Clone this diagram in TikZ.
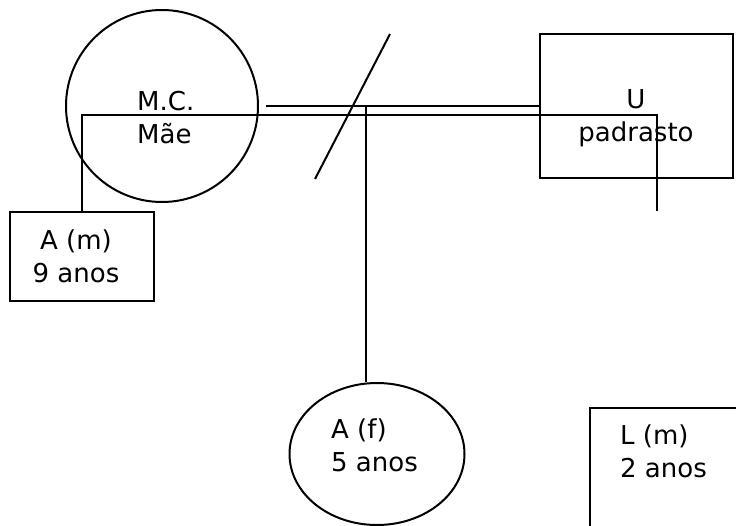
\documentclass[tikz,border=0pt]{standalone}
\usepackage{fontspec}
\setmainfont{DejaVu Sans}
\usetikzlibrary{shapes.geometric}
\tikzstyle{homem}=[rectangle, draw=black, line width=2pt, inner sep=0pt]
\tikzstyle{mulher}=[ellipse, draw=black, line width=2pt, inner sep=0pt]
\tikzstyle{txt}=[align=left, inner sep=0pt, font=\fontsize{26}{33}\selectfont]
\tikzstyle{lig}=[line width=2pt]

\begin{document}
\begin{tikzpicture}[x=1pt, y=-1pt]
                                        \useasboundingbox (0,0) rectangle (736,525);
                                        \clip (0,0) rectangle (736,525);
                                        
                                        \node[mulher, minimum width=192pt, minimum height=192pt] (mae) at (162,106) {};
                                        \node[homem, minimum width=193pt, minimum height=144pt] (u) at (636,106) {};
                                        \node[homem, minimum width=144pt, minimum height=89pt, anchor=north] (am) at (82,211) {};
                                        \node[mulher, minimum width=175pt, minimum height=142pt] (af) at (377,454) {};
                                        \node[homem, minimum width=180pt, minimum height=160pt, anchor=north west] (lm) at (589,407) {};
                                        
                                        \node[txt, anchor=base west] (maeTxt) at (137,143) {M.C.\\Mãe};
                                        \node[txt, anchor=base, align=center] (uTxt) at (636,141) {U\\padrasto};
                                        \node[txt, anchor=base, align=center] (amTxt) at (76,282) {A (m)\\9 anos};
                                        \node[txt, anchor=base west] (afTxt) at (331,471) {A (f)\\5 anos};
                                        \node[txt, anchor=base west] (lmTxt) at (620,477) {L (m)\\2 anos};
                                        
                                        \coordinate (bar) at (82,115);
                                        \coordinate (ufim) at (657,211);
                                        \coordinate (kid) at (366,107);
                                        \coordinate (sepA) at (390,34);
                                        \coordinate (sepB) at (315,179);
                                        
                                        \draw[lig] ([xshift=7pt]mae.east) -- (u.west);
                                        \draw[lig] (am.north) -- (bar) -| (ufim);
                                        \draw[lig] (kid) -- (kid |- af.north);
                                        \draw[lig] (sepA) -- (sepB);
                                    \end{tikzpicture}
\end{document}
